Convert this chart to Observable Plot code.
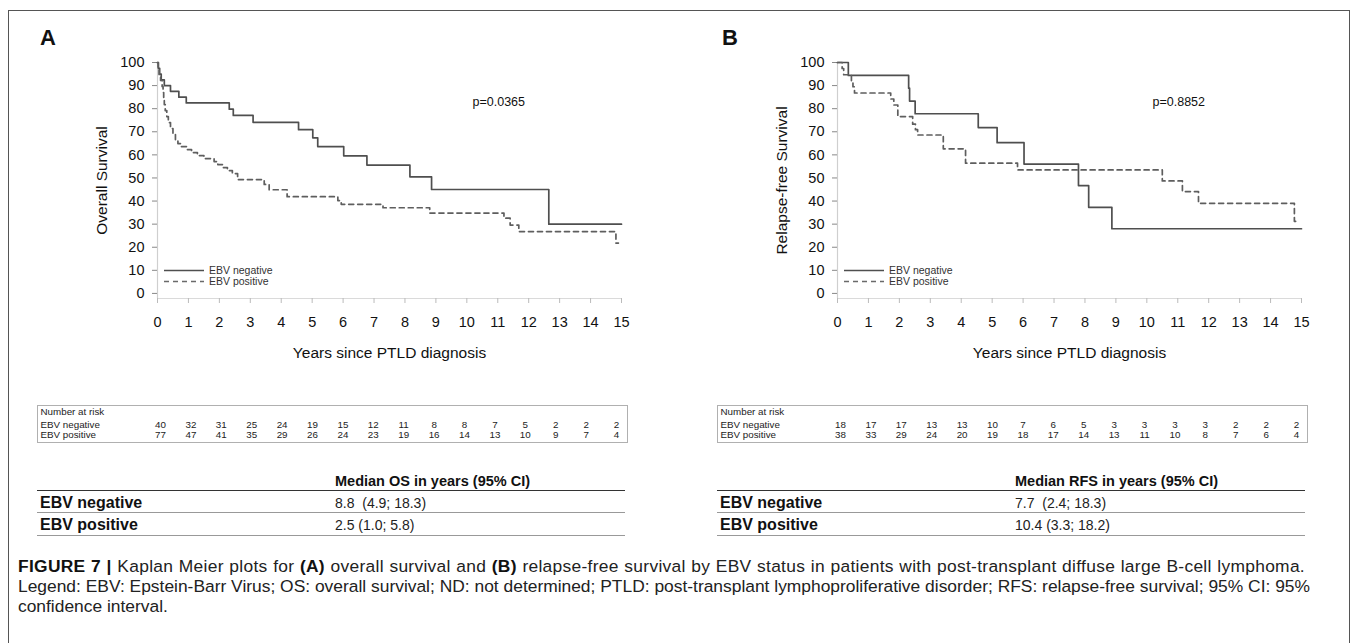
<!DOCTYPE html>
<html>
<head>
<meta charset="utf-8">
<script src="https://cdn.jsdelivr.net/npm/d3@7"></script>
<script src="https://cdn.jsdelivr.net/npm/@observablehq/plot@0.6"></script>
<style>
  html, body { margin: 0; padding: 0; background: #fff; }
  body { width: 1357px; height: 643px; position: relative; overflow: hidden;
         font-family: "Liberation Sans", Arial, sans-serif; color: #111; }
  #frame { position: absolute; left: 8px; top: 10px; width: 1342px; height: 660px;
           border: 1.5px solid #555; box-sizing: border-box; }
  .panel-letter { position: absolute; font-weight: bold; font-size: 22px; line-height: 22px; }
  .riskbox { position: absolute; border: 1.5px solid #b0b0b0; box-sizing: border-box; }
  .mtab { position: absolute; width: 588px; height: 70px; }
  .mhead { position: absolute; font-size: 14.5px; line-height: 17px; font-weight: bold; white-space: pre; color: #111; }
  .mline { position: absolute; left: 0; width: 588px; height: 0; }
  .mlab { position: absolute; font-weight: bold; font-size: 16px; line-height: 18px; white-space: pre; }
  .mval { position: absolute; font-size: 14px; line-height: 18px; white-space: pre; color: #222; }
  #caption { position: absolute; left: 18px; top: 556px; font-size: 17.4px; line-height: 20px; color: #222; white-space: nowrap; }
  #caption div.j { text-align: justify; text-align-last: justify; white-space: normal; }
  #caption b { color: #111; }
</style>
</head>
<body>
<div id="frame"></div>
<div id="root"></div>
<script>
// ---------------- DATA ----------------
const xTicks = [0,1,2,3,4,5,6,7,8,9,10,11,12,13,14,15];
const yTicks = [0,10,20,30,40,50,60,70,80,90,100];
const groups = ["EBV negative", "EBV positive"];

// Panel A: Overall survival (Kaplan-Meier steps, percent)
const osNegTime = [0, 0.03, 0.07, 0.12, 0.22, 0.42, 0.69, 0.93, 2.32, 2.45, 3.09, 4.56, 5.02, 5.18, 6.02, 6.77, 8.16, 8.86, 12.65, 15.0];
const osNegSurv = [100, 97.5, 95, 92.5, 90, 87.5, 85, 82.5, 79.8, 77.1, 74.1, 70.9, 67.4, 63.6, 59.6, 55.6, 50.5, 45.0, 30.0, 30.0];
const osPosTime = [0, 0.02, 0.05, 0.1, 0.15, 0.18, 0.2, 0.22, 0.25, 0.3, 0.35, 0.42, 0.5, 0.58, 0.66, 0.75, 0.96, 1.1, 1.29, 1.5, 1.83, 1.95, 2.1, 2.26, 2.42, 2.59, 3.45, 3.61, 4.19, 5.83, 5.94, 7.29, 8.8, 11.2, 11.4, 11.68, 14.82, 14.9];
const osPosSurv = [100, 97.4, 94.8, 92.2, 89.6, 87, 84.4, 81.8, 79.2, 76.6, 74, 71.4, 68.8, 66.2, 64.9, 63.6, 62.3, 61, 59.7, 58.4, 57.1, 55.8, 54.5, 53.2, 51.9, 49.3, 47.2, 44.9, 41.9, 40.2, 38.6, 37.1, 34.8, 32.6, 29.6, 26.8, 21.8, 21.8];

// Panel B: Relapse-free survival
const rfsNegTime = [0, 0.35, 2.3, 2.33, 2.51, 4.55, 5.16, 6.03, 7.79, 8.12, 8.87, 15.0];
const rfsNegSurv = [100, 94.4, 88.9, 83.3, 77.8, 71.8, 65.3, 56.0, 46.7, 37.3, 28.0, 28.0];
const rfsPosTime = [0, 0.15, 0.2, 0.45, 0.5, 0.55, 1.72, 1.82, 1.95, 2.43, 2.52, 2.59, 3.42, 4.14, 5.82, 10.5, 11.15, 11.67, 14.77, 14.91];
const rfsPosSurv = [100, 97.4, 94.7, 92.1, 89.5, 86.8, 84.2, 81.6, 76.6, 73.3, 70.9, 68.6, 62.6, 56.4, 53.5, 48.7, 44.1, 39.0, 31.2, 31.2];

// Number at risk
const riskTimes = [0,1,2,3,4,5,6,7,8,9,10,11,12,13,14,15];
const osRiskNeg = [40,32,31,25,24,19,15,12,11,8,8,7,5,2,2,2];
const osRiskPos = [77,47,41,35,29,26,24,23,19,16,14,13,10,9,7,4];
const rfsRiskNeg = [18,17,17,13,13,10,7,6,5,3,3,3,3,2,2,2];
const rfsRiskPos = [38,33,29,24,20,19,18,17,14,13,11,10,8,7,6,4];

// Median tables
const medianHeaders = ["Median OS in years (95% CI)", "Median RFS in years (95% CI)"];
const osMedians = ["8.8  (4.9; 18.3)", "2.5 (1.0; 5.8)"];
const rfsMedians = ["7.7  (2.4; 18.3)", "10.4 (3.3; 18.2)"];

const pValues = ["p=0.0365", "p=0.8852"];
const yTitles = ["Overall Survival", "Relapse-free Survival"];
const xTitle = "Years since PTLD diagnosis";

// ---------------- LAYOUT ----------------
const FONT = "Liberation Sans, Arial, sans-serif";
const yDomain = [-2.2, 100];
const panelOffset = [0, 680];
const root = document.getElementById("root");

function series(times, surv, group) {
  return times.map((t, i) => ({ t, s: surv[i], group }));
}

function kmPlot(negT, negS, posT, posS, yTitle, pText) {
  const neg = series(negT, negS, groups[0]);
  const pos = series(posT, posS, groups[1]);
  return Plot.plot({
    width: 680, height: 370,
    marginLeft: 157, marginRight: 59, marginTop: 62, marginBottom: 72,
    x: { domain: [0, 15], axis: null },
    y: { domain: yDomain, axis: null },
    style: { fontFamily: FONT, fontSize: "14.5px", color: "#111", background: "transparent", overflow: "visible" },
    marks: [
      Plot.ruleX([0], { stroke: "#cfcfcf", strokeWidth: 1.2 }),
      Plot.ruleY([yDomain[0]], { stroke: "#dadada", strokeWidth: 1.2 }),
      Plot.axisY({ ticks: yTicks, tickSize: 5, tickPadding: 8, stroke: "#888", fill: "#111", fontSize: 14.5, label: null, tickFormat: d => String(d) }),
      Plot.axisX({ ticks: xTicks, tickSize: 5, tickPadding: 13, stroke: "#bbb", fill: "#111", fontSize: 14.5, label: null, tickFormat: d => String(d) }),
      Plot.line(neg, { x: "t", y: "s", curve: "step-after", stroke: "#4f4f4f", strokeWidth: 1.7 }),
      Plot.line(pos, { x: "t", y: "s", curve: "step-after", stroke: "#5e5e5e", strokeWidth: 1.7, strokeDasharray: "5,4" }),
      Plot.text([xTitle], { frameAnchor: "bottom", dy: 59, fontSize: 15.5, fill: "#111" }),
      Plot.text([yTitle], { frameAnchor: "left", dx: -55, rotate: -90, textAnchor: "middle", fontSize: 15.5, fill: "#111" }),
      Plot.text([pText], { frameAnchor: "top-left", dx: 315, dy: 35, textAnchor: "start", fontSize: 12.5, fill: "#111" })
    ]
  });
}

function riskPlot(negN, posN) {
  const rows = [];
  riskTimes.forEach((t, i) => {
    rows.push({ t, n: negN[i], group: groups[0] });
    rows.push({ t, n: posN[i], group: groups[1] });
  });
  return Plot.plot({
    width: 680, height: 38,
    marginLeft: 160, marginRight: 64, marginTop: 0, marginBottom: 0,
    x: { domain: [0, 15], axis: null },
    y: { type: "point", domain: groups, range: [18.8, 29.3], padding: 0, axis: null },
    style: { fontFamily: FONT, fontSize: "9.8px", color: "#222", background: "transparent", overflow: "visible" },
    marks: [
      Plot.text(rows, { x: "t", y: "group", text: d => String(d.n), fontSize: 9.8, fill: "#222" }),
      Plot.text(groups, { y: d => d, text: d => d, frameAnchor: "left", dx: -120, textAnchor: "start", fontSize: 9.8, fill: "#222" }),
      Plot.text(["Number at risk"], { frameAnchor: "top-left", dx: -120, dy: 6.3, textAnchor: "start", lineAnchor: "middle", fontSize: 9.8, fill: "#222" })
    ]
  });
}

function place(el, left, top) {
  el.style.position = "absolute";
  el.style.left = left + "px";
  el.style.top = top + "px";
  root.appendChild(el);
}

const kmSpecs = [
  [osNegTime, osNegSurv, osPosTime, osPosSurv, osRiskNeg, osRiskPos, osMedians],
  [rfsNegTime, rfsNegSurv, rfsPosTime, rfsPosSurv, rfsRiskNeg, rfsRiskPos, rfsMedians]
];
const letters = ["A", "B"];

kmSpecs.forEach((spec, k) => {
  const off = panelOffset[k];
  const L = document.createElement("div");
  L.className = "panel-letter"; L.textContent = letters[k];
  place(L, 40 + off + 2 * k, 27);
  place(kmPlot(spec[0], spec[1], spec[2], spec[3], yTitles[k], pValues[k]), off, 0);
  // legend (inside plot, lower left)
  const lg = document.createElement("div");
  lg.innerHTML =
    `<svg width="120" height="24" style="position:absolute;left:0;top:0;overflow:visible">
       <line x1="0" x2="40" y1="5.5" y2="5.5" stroke="#4f4f4f" stroke-width="1.5"/>
       <line x1="0" x2="40" y1="16.5" y2="16.5" stroke="#6a6a6a" stroke-width="1.5" stroke-dasharray="5,4"/>
       <text x="45" y="9" font-size="10.5" fill="#333" font-family="${FONT}">${groups[0]}</text>
       <text x="45" y="20" font-size="10.5" fill="#333" font-family="${FONT}">${groups[1]}</text>
     </svg>`;
  place(lg, 164 + off, 264.5);
  // risk table
  const box = document.createElement("div");
  box.className = "riskbox";
  box.style.width = "591px"; box.style.height = "38px";
  place(box, 37 + off, 405);
  place(riskPlot(spec[4], spec[5]), off, 405);
  // median table
  const mt = document.createElement("div");
  mt.className = "mtab";
  mt.innerHTML =
    `<div class="mhead" style="left:298px;top:0px">${medianHeaders[k]}</div>
     <div class="mline" style="top:17px;border-top:1.5px solid #333"></div>
     <div class="mlab" style="left:3px;top:21px">${groups[0]}</div>
     <div class="mval" style="left:298px;top:21px">${spec[6][0]}</div>
     <div class="mline" style="top:39.5px;border-top:1.5px solid #999"></div>
     <div class="mlab" style="left:3px;top:43px">${groups[1]}</div>
     <div class="mval" style="left:298px;top:43px">${spec[6][1]}</div>
     <div class="mline" style="top:62px;border-top:1.5px solid #999"></div>`;
  place(mt, 37 + off, 472.5);
});

// caption
const cap = document.createElement("div");
cap.id = "caption";
cap.innerHTML =
  `<div class="j" style="width:1287px;letter-spacing:0.3px"><b>FIGURE 7 |</b> Kaplan Meier plots for <b>(A)</b> overall survival and <b>(B)</b> relapse-free survival by EBV status in patients with post-transplant diffuse large B-cell lymphoma.</div>
   <div class="j" style="width:1292px">Legend: EBV: Epstein-Barr Virus; OS: overall survival; ND: not determined; PTLD: post-transplant lymphoproliferative disorder; RFS: relapse-free survival; 95% CI: 95%</div>
   <div>confidence interval.</div>`;
document.body.appendChild(cap);
</script>
</body>
</html>
